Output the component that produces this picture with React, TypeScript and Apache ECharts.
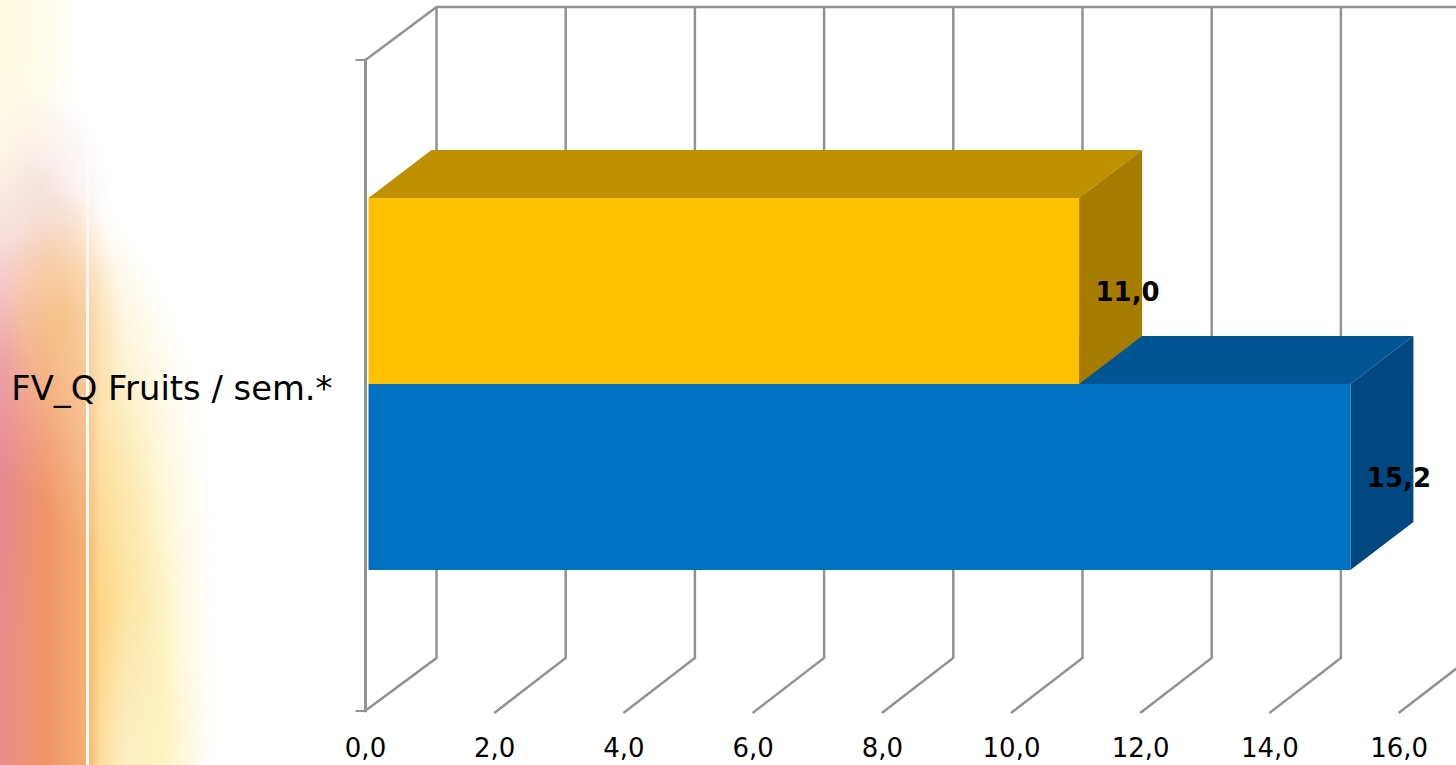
import React, { useEffect, useRef } from "react";
import * as echarts from "echarts";

const categories = ["FV_Q Fruits / sem.*"];
const blueValues = [15.2];
const yellowValues = [11.0];
const axisTicks = [0, 2, 4, 6, 8, 10, 12, 14, 16];

const PLOT_LEFT = 365.5;
const PLOT_TOP = 60;
const PLOT_BOTTOM = 711;
const UNIT = 64.6;
const WALL_DX = 71;
const WALL_DY = 53;
const BAR_DX = 63;
const BAR_DY = 48;
const BAR_INSET = 3;
const BAR_THICK = 186;
const GRID_COLOR = "#929292";

const decimal = (v: number) => v.toFixed(1).replace(".", ",");

// One box of the 3D bar: side and top faces behind a flat front face.
function boxRenderer(front: string, top: string, side: string, above: boolean) {
  return (params: any, api: any) => {
    const end = api.coord([api.value(0), api.value(1)]);
    const start = api.coord([0, api.value(1)]);
    const x0 = start[0] + BAR_INSET;
    const x1 = end[0] + BAR_INSET;
    const yMid = start[1] - 1.5;
    const y0 = above ? yMid - BAR_THICK : yMid;
    const y1 = above ? yMid : yMid + BAR_THICK;
    return {
      type: "group",
      children: [
        {
          type: "polygon",
          shape: { points: [[x0, y0], [x0 + BAR_DX, y0 - BAR_DY], [x1 + BAR_DX, y0 - BAR_DY], [x1, y0]] },
          style: { fill: top },
        },
        {
          type: "polygon",
          shape: { points: [[x1, y0], [x1 + BAR_DX, y0 - BAR_DY], [x1 + BAR_DX, y1 - BAR_DY], [x1, y1]] },
          style: { fill: side },
        },
        {
          type: "rect",
          shape: { x: x0, y: y0, width: x1 - x0, height: y1 - y0 },
          style: { fill: front },
        },
        {
          type: "text",
          x: x1 + 48.5,
          y: (y0 + y1) / 2 + 1,
          style: {
            text: decimal(api.value(0)),
            fill: "#000",
            font: "bold 26px 'DejaVu Sans'",
            align: "center",
            verticalAlign: "middle",
          },
        },
      ],
    };
  };
}

// Back wall and floor lines, one pair per axis tick.
function wallRenderer(params: any, api: any) {
  const p = api.coord([api.value(0), categories[0]]);
  const x = p[0];
  const isZero = api.value(0) === 0;
  const line = { stroke: GRID_COLOR, lineWidth: 2.5, fill: "none" };
  const back = x + WALL_DX;
  const children: any[] = [
    {
      type: "polyline",
      shape: {
        points: [
          [x - 0.5, PLOT_BOTTOM + (isZero ? 0 : 2)],
          [back, PLOT_BOTTOM - WALL_DY],
          [back, PLOT_TOP - WALL_DY],
        ],
      },
      style: line,
    },
  ];
  if (isZero) {
    children.push({
      type: "polyline",
      shape: {
        points: [
          [x, PLOT_TOP],
          [back, PLOT_TOP - WALL_DY],
          [1456, PLOT_TOP - WALL_DY],
        ],
      },
      style: line,
    });
  }
  return { type: "group", children };
}

// Decorative colour wash down the left edge of the slide.
const warmBand =
  "linear-gradient(to right, #e88e8e 0, #ee9278 25px, #f09468 45px, #f4ae72 85px, #fcd688 100px, #fde59c 140px, #fef2b8 170px, rgba(255,255,255,0) 218px)";
const warmMask = "radial-gradient(ellipse 265px 650px at 0 800px, #000 48%, rgba(0,0,0,.75) 68%, rgba(0,0,0,0) 100%)";
const paleTop = "radial-gradient(ellipse 80px 240px at 0 20px, rgba(255,251,220,1) 0, rgba(255,251,220,.6) 50%, rgba(255,251,220,0) 100%)";
const blush = "radial-gradient(ellipse 70px 100px at 40px 190px, rgba(240,212,212,.55), rgba(240,212,212,0))";
const orangeTongue = "radial-gradient(ellipse 60px 130px at 62px 320px, rgba(246,190,120,.7), rgba(246,190,120,0))";
const pinkEdge = "radial-gradient(ellipse 40px 180px at 0 470px, rgba(230,130,150,.4), rgba(230,130,150,0))";
const paleFoot = "radial-gradient(ellipse 42px 180px at 130px 770px, rgba(255,250,236,.6), rgba(255,250,236,0))";

export default function App() {
  const ref = useRef<HTMLDivElement>(null);

  useEffect(() => {
    const chart = echarts.init(ref.current!, null, { renderer: "svg" });
    chart.setOption({
      animation: false,
      backgroundColor: "transparent",
      grid: {
        left: PLOT_LEFT,
        top: PLOT_TOP,
        width: UNIT * 16,
        height: PLOT_BOTTOM - PLOT_TOP,
        containLabel: false,
      },
      xAxis: {
        type: "value",
        min: 0,
        max: 16,
        interval: 2,
        splitLine: { show: false },
        axisLine: { show: false },
        axisTick: { show: false },
        axisLabel: {
          formatter: (v: number) => decimal(v),
          color: "#000",
          fontFamily: "DejaVu Sans",
          fontSize: 26,
          margin: 24,
          hideOverlap: false,
        },
      },
      yAxis: {
        type: "category",
        data: categories,
        axisLine: { show: true, lineStyle: { color: GRID_COLOR, width: 3 } },
        axisTick: { show: true, length: 10, lineStyle: { color: GRID_COLOR, width: 2 } },
        axisLabel: {
          margin: 33,
          formatter: (v: string) => `{name|${v}}`,
          rich: {
            name: {
              color: "#000",
              fontFamily: "DejaVu Sans",
              fontSize: 33.8,
              padding: [6, 0, 0, 0],
            },
          },
        },
      },
      series: [
        {
          type: "custom",
          name: "Grille",
          data: axisTicks.map((t) => [t]),
          encode: { x: 0 },
          silent: true,
          renderItem: wallRenderer,
          z: 1,
        },
        {
          type: "custom",
          name: "Série bleue",
          data: blueValues.map((v, i) => [v, i]),
          encode: { x: 0, y: 1 },
          renderItem: boxRenderer("#0070C0", "#005592", "#00487F", false),
          z: 2,
        },
        {
          type: "custom",
          name: "Série jaune",
          data: yellowValues.map((v, i) => [v, i]),
          encode: { x: 0, y: 1 },
          renderItem: boxRenderer("#FFC000", "#BF9000", "#A67C00", true),
          z: 3,
        },
      ],
    });
    return () => chart.dispose();
  }, []);

  return (
    <div style={{ position: "fixed", inset: 0, width: 1456, height: 765, background: "#fff", overflow: "hidden" }}>
      <div
        style={{
          position: "absolute",
          left: 0,
          top: 0,
          width: 300,
          height: 765,
          backgroundImage: warmBand,
          WebkitMaskImage: warmMask,
          maskImage: warmMask,
        }}
      />
      <div
        style={{
          position: "absolute",
          left: 0,
          top: 0,
          width: 300,
          height: 765,
          backgroundImage: [paleFoot, pinkEdge, orangeTongue, blush, paleTop].join(","),
        }}
      />
      <div
        style={{
          position: "absolute",
          left: 86,
          top: 0,
          width: 2.5,
          height: 765,
          background: "linear-gradient(to bottom, rgba(255,255,255,0), rgba(255,255,255,.9) 45%, #fffdf0)",
        }}
      />
      <div ref={ref} style={{ position: "absolute", left: 0, top: 0, width: 1456, height: 765 }} />
    </div>
  );
}
